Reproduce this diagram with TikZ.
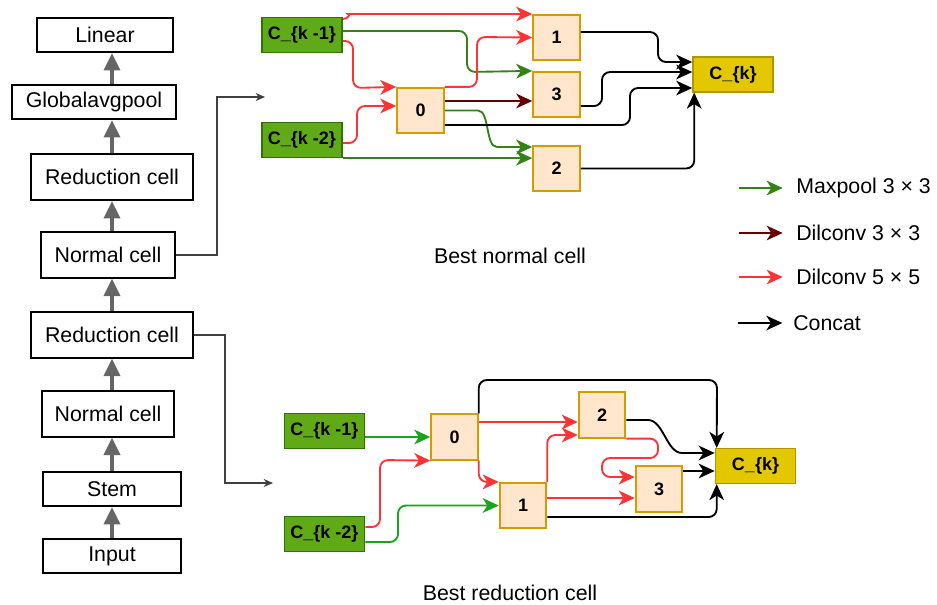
\documentclass[tikz,border=0pt]{standalone}
\usepackage{fontspec}
\setmainfont{Liberation Sans}
\usepackage{tikz}
\usetikzlibrary{arrows.meta, positioning}
\definecolor{poolgreen}{RGB}{50,130,20}
\definecolor{poolbright}{RGB}{25,165,25}
\definecolor{dilthree}{RGB}{102,0,0}
\definecolor{dilfive}{RGB}{255,51,51}
\definecolor{kfill}{HTML}{60A917}
\definecolor{kline}{HTML}{2D7600}
\definecolor{opfill}{HTML}{FFE6CC}
\definecolor{opline}{HTML}{D79B00}
\definecolor{cfill}{HTML}{E3C800}
\definecolor{cline}{HTML}{B09500}
\tikzset{
  layer/.style={draw, line width=1.5pt, inner sep=0pt, font=\fontsize{16}{19}\selectfont},
  kbox/.style={draw=kline, fill=kfill, line width=1.2pt, minimum width=60pt, minimum height=26pt,
    inner sep=0pt, font=\fontsize{13.5}{16}\selectfont\bfseries},
  opbox/.style={draw=opline, fill=opfill, line width=1.4pt, minimum width=35pt, minimum height=34pt,
    inner sep=0pt, font=\fontsize{13.5}{16}\selectfont\bfseries},
  cbox/.style={draw=cline, fill=cfill, line width=1.2pt, minimum width=60pt, minimum height=26pt,
    inner sep=0pt, font=\fontsize{13.5}{16}\selectfont\bfseries},
  label/.style={inner sep=0pt, font=\fontsize{16}{19}\selectfont}
}

\begin{document}
\begin{tikzpicture}[x=0.75pt, y=-0.75pt,
  edge/.style={line width=1.4pt, rounded corners=6pt, -{Stealth[length=12pt, width=11pt, inset=3.5pt]}},
  pool/.style={edge, draw=poolgreen},
  poolB/.style={edge, draw=poolbright},
  dilA/.style={edge, draw=dilthree},
  dilB/.style={edge, draw=dilfive},
  concat/.style={edge, draw=black},
  uparrow/.style={draw=black!60, line width=2.6pt, -{Triangle[length=13pt, width=12pt]}},
  tag/.style={draw=black!75, line width=0.8pt, -{Stealth[length=7pt, width=6pt]}}]
\useasboundingbox (0,0) rectangle (937,604);

% network
\node[layer, minimum width=102pt, minimum height=25.5pt] (lin) at (105,35) {Linear};
\node[layer, minimum width=123pt, minimum height=25.5pt] (gap) at (94,102) {Globalavgpool};
\node[layer, minimum width=121pt, minimum height=34.5pt] (red2) at (112,177) {Reduction cell};
\node[layer, minimum width=100pt, minimum height=34pt] (nrm2) at (108,255) {Normal cell};
\node[layer, minimum width=121.5pt, minimum height=34pt] (red1) at (112,335) {Reduction cell};
\node[layer, minimum width=99pt, minimum height=34pt] (nrm1) at (108,414) {Normal cell};
\node[layer, minimum width=103.5pt, minimum height=25.5pt] (stem) at (112,489) {Stem};
\node[layer, minimum width=103.5pt, minimum height=26pt] (inp) at (112,556) {Input};

\draw[uparrow] (inp.north -| stem) -- (stem.south);
\draw[uparrow] (stem.north) -- (nrm1.south -| stem);
\draw[uparrow] (nrm1.north -| stem) -- (red1.south -| stem);
\draw[uparrow] (red1.north -| stem) -- (nrm2.south -| stem);
\draw[uparrow] (nrm2.north -| stem) -- (red2.south -| stem);
\draw[uparrow] (red2.north -| stem) -- (gap.south -| stem);
\draw[uparrow] (gap.north -| stem) -- (lin.south -| stem);

\coordinate (ntag) at (265,97);
\coordinate (rtag) at (273,483);
\draw[tag] (nrm2.east) -| (217,97) -- (ntag);
\draw[tag] (red1.east) -| (225,483) -- (rtag);

% best normal cell
\node[kbox] (nk1) at (302,35) {C\_\{k -1\}};
\node[kbox] (nk2) at (302,140) {C\_\{k -2\}};
\node[opbox] (n0) at (420.5,110.5) {0};
\node[opbox] (n1) at (556.5,37.5) {1};
\node[opbox] (n3) at (556.5,94.5) {3};
\node[opbox] (n2) at (556.5,168.5) {2};
\node[cbox] (nk) at (733,74.5) {C\_\{k\}};

\draw[dilB] (nk1.east |- 0,19) to[out=0, in=180] (356,14) -- (n1.west |- 0,14);
\draw[pool] (nk1.east |- 0,31) -| (467,72) -- (n3.north west);
\draw[dilB] (nk1.east |- 0,41) -| (353,88) -- (n0.north west);
\draw[dilB] (nk2.east |- 0,143) -| (357,106) -- (n0.west |- 0,106);
\draw[pool] (nk2.south east) -- (nk2.south east -| n2.west);
\draw[dilB] (n0.north east) -| (477,37) -- (n1.west);
\draw[dilA] (n0.east |- 0,101) -- (n3.west |- 0,101);
\draw[pool] (n0.east) -- (470,110.5) to[out=0, in=180] (505,147) -- (n2.west |- 0,147);
\draw[concat] (n0.east |- 0,125) -| (630,88) -- (nk.west |- 0,88);
\draw[concat] (n1.east |- 0,32) -| (658,62) -- (nk.west |- 0,62);
\draw[concat] (n3.east |- 0,106) -| (602,72) -- (nk.west |- 0,72);
\draw[concat] (n2.east) -| ([xshift=1.5pt]nk.south west);

\node[label] (ncap) at (510,256) {Best normal cell};

% best reduction cell
\node[kbox] (rk1) at (324.5,431) {C\_\{k -1\}};
\node[kbox] (rk2) at (324.5,534) {C\_\{k -2\}};
\node[opbox] (r0) at (454.5,437) {0};
\node[opbox] (r1) at (523,505.5) {1};
\node[opbox] (r2) at (602,415) {2};
\node[opbox] (r3) at (659,489) {3};
\node[cbox] (rk) at (755.5,466) {C\_\{k\}};

\draw[poolB] (rk1.east |- r0.west) -- (r0.west);
\draw[dilB] (rk2.east |- 0,527) -| (380,460) -- (r0.south west);
\draw[poolB] (rk2.east |- 0,542) -| (398,505.5) -- (r1.west);
\draw[dilB] (r0.south east) |- (r1.north west);
\draw[dilB] (r0.east |- 0,422) -- (r2.west |- 0,422);
\draw[concat] (r0.north east) |- (717,380) -- ([xshift=1.5pt]rk.north west);
\draw[dilB] (r1.north east) |- (r2.west |- 0,435);
\draw[dilB] (r2.south east) -| (658,458) -| (602,477) -- (r3.west |- 0,477);
\draw[dilB] (r1.east |- 0,498) -- (r3.west |- 0,498);
\draw[concat] (r2.east |- 0,420) -- (640,420) to[out=0, in=180] (690,453) -- (rk.west |- 0,453);
\draw[concat] (r3.east |- 0,471) -- (rk.west |- 0,471);
\draw[concat] (r1.east |- 0,517) -| ([xshift=1.5pt]rk.south west);

\node[label] (rcap) at (510,593) {Best reduction cell};

% legend
\node[label, anchor=west] (lgpool) at (796,188) {Maxpool 3 × 3};
\node[label, anchor=west] (lgdilA) at (796,233) {Dilconv 3 × 3};
\node[label, anchor=west] (lgdilB) at (796,277) {Dilconv 5 × 5};
\node[label, anchor=west] (lgcat) at (793,323) {Concat};
\draw[pool] ([xshift=-43pt]lgpool.west) -- ([xshift=-10pt]lgpool.west);
\draw[dilA] ([xshift=-43pt]lgdilA.west) -- ([xshift=-10pt]lgdilA.west);
\draw[dilB] ([xshift=-43pt]lgdilB.west) -- ([xshift=-10pt]lgdilB.west);
\draw[concat] ([xshift=-41pt]lgcat.west) -- ([xshift=-8pt]lgcat.west);
\end{tikzpicture}
\end{document}
